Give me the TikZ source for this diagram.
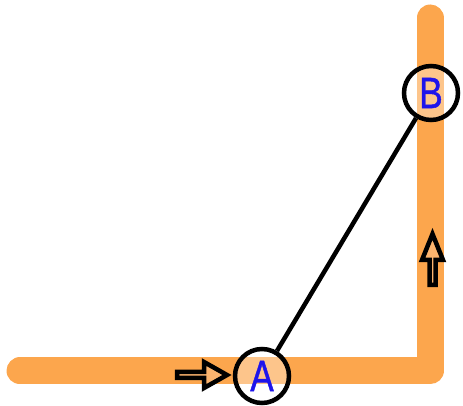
\documentclass[tikz,border=0pt]{standalone}
\usepackage{fontspec}
\setmainfont{Liberation Sans}
\newfontfamily\labelfont[FakeBold=1.2]{Liberation Sans}
\begin{document}
\begin{tikzpicture}[x=1pt,y=1pt,
  track/.style={line width=27pt, draw={rgb,255:red,252;green,166;blue,77}, line cap=round, line join=round},
  station/.style={circle, draw=black, line width=4.5pt, minimum size=54pt, inner sep=0pt,
    fill=white, fill opacity=0.35, text opacity=1, text={rgb,255:red,30;green,20;blue,235},
    font=\labelfont\fontsize{35}{35}\selectfont},
  hollow/.style={draw=black, line width=4.5pt, line join=miter, fill={rgb,255:red,252;green,180;blue,110}}]
\useasboundingbox (0,0) rectangle (463,406);
% the L-shaped track
\coordinate (tl) at (20,35);
\coordinate (corner) at (430,35);
\coordinate (top) at (430,388);
\draw[track] (tl) -- (corner) -- (top);
% stations and the link between them
\node[station] (A) at (262,30) {\scalebox{1}[1.25]{A}};
\node[station] (B) at (431,313) {\scalebox{1}[1.25]{B}};
\draw[line width=4.5pt] (A) -- (B);
% direction arrows along the track
\draw[hollow] (177,28) -- (204,28) -- (204,18) -- (227,31) -- (204,44) -- (204,34) -- (177,34) -- cycle;
\draw[hollow] (429.5,121) -- (429.5,146) -- (422,146) -- (432.5,172) -- (443,146) -- (435.5,146) -- (435.5,121) -- cycle;
\end{tikzpicture}
\end{document}
